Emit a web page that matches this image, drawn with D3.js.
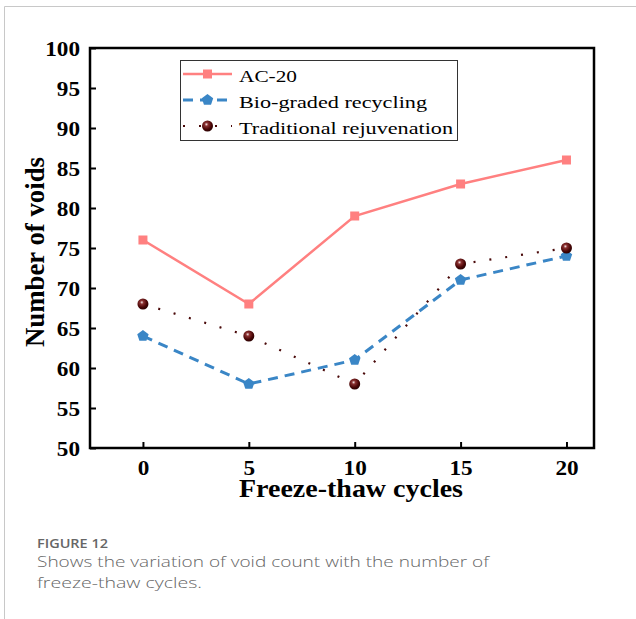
<!DOCTYPE html>
<html>
<head>
<meta charset="utf-8">
<script src="https://cdn.jsdelivr.net/npm/d3@7"></script>
<style>
  body { margin: 0; background: #fff; }
  svg { display: block; }
</style>
</head>
<body>
<div id="chart"></div>
<script>
// data
var cycles = [0, 5, 10, 15, 20];
var ac20 = [76, 68, 79, 83, 86];
var bioGraded = [64, 58, 61, 71, 74];
var traditional = [68, 64, 58, 73, 75];
var yTicks = [50, 55, 60, 65, 70, 75, 80, 85, 90, 95, 100];
var seriesNames = ["AC-20", "Bio-graded recycling", "Traditional rejuvenation"];

var W = 636, H = 619;
var margin = { left: 90, top: 48, right: 594, bottom: 448 };

var svg = d3.select("#chart").append("svg")
    .attr("width", W)
    .attr("height", H);

// page frame lines (top and left)
svg.append("line").attr("x1", 4.5).attr("x2", W).attr("y1", 6.5).attr("y2", 6.5)
    .attr("stroke", "#c8c8c8").attr("stroke-width", 1);
svg.append("line").attr("x1", 4.5).attr("x2", 4.5).attr("y1", 6.5).attr("y2", H)
    .attr("stroke", "#c8c8c8").attr("stroke-width", 1);

var defs = svg.append("defs");
var grad = defs.append("radialGradient").attr("id", "ball")
    .attr("cx", "40%").attr("cy", "35%").attr("r", "65%");
grad.append("stop").attr("offset", "0%").attr("stop-color", "#f4e6e6");
grad.append("stop").attr("offset", "25%").attr("stop-color", "#8a3030");
grad.append("stop").attr("offset", "70%").attr("stop-color", "#4a0606");
grad.append("stop").attr("offset", "100%").attr("stop-color", "#2a0000");

var x = d3.scaleLinear().domain([-2.5, 21.3]).range([margin.left, margin.right]);
var y = d3.scaleLinear().domain([50, 100]).range([margin.bottom, margin.top]);

var serif = "'Liberation Serif', 'Times New Roman', serif";

// axes
var xAxis = d3.axisBottom(x).tickValues(cycles).tickSizeInner(-6).tickSizeOuter(0);
var yAxis = d3.axisLeft(y).tickValues(yTicks).tickSizeInner(-6).tickSizeOuter(0).tickPadding(10);

var gx = svg.append("g").attr("transform", "translate(0," + margin.bottom + ")").call(xAxis);
var gy = svg.append("g").attr("transform", "translate(" + margin.left + ",0)").call(yAxis);

[gx, gy].forEach(function (g) {
    g.select(".domain").remove();
    g.selectAll(".tick line").attr("stroke", "#000").attr("stroke-width", 2);
    g.selectAll(".tick text")
        .attr("fill", "#000")
        .style("font-family", serif)
        .style("font-weight", "bold")
        .style("font-size", "20px")
        .attr("lengthAdjust", "spacingAndGlyphs")
        .attr("textLength", function () { return this.textContent.length * 11.6; });
});
gx.selectAll(".tick text").attr("y", 27).attr("dy", 0);
gy.selectAll(".tick text").attr("dy", "0.35em");

// plot frame
svg.append("rect")
    .attr("x", margin.left).attr("y", margin.top)
    .attr("width", margin.right - margin.left)
    .attr("height", margin.bottom - margin.top)
    .attr("fill", "none").attr("stroke", "#000").attr("stroke-width", 2.5);

// axis titles
svg.append("text")
    .attr("x", 351).attr("y", 497)
    .attr("text-anchor", "middle")
    .attr("textLength", 224).attr("lengthAdjust", "spacingAndGlyphs")
    .style("font-family", serif).style("font-weight", "bold").style("font-size", "26px")
    .text("Freeze-thaw cycles");

svg.append("text")
    .attr("transform", "translate(44,252) rotate(-90)")
    .attr("text-anchor", "middle")
    .attr("textLength", 190).attr("lengthAdjust", "spacingAndGlyphs")
    .style("font-family", serif).style("font-weight", "bold").style("font-size", "26.5px")
    .text("Number of voids");

var line = d3.line()
    .x(function (d, i) { return x(cycles[i]); })
    .y(function (d) { return y(d); });

var colAC = "#ff8080", colBio = "#3a86c6", colTr = "#4a0a0a";

function pentagon(cx, cy, r) {
    var pts = [];
    for (var k = 0; k < 5; k++) {
        var a = -Math.PI / 2 + k * 2 * Math.PI / 5;
        pts.push([cx + r * Math.cos(a), cy + r * Math.sin(a)]);
    }
    return "M" + pts.join("L") + "Z";
}

// AC-20
svg.append("path").datum(ac20).attr("d", line)
    .attr("fill", "none").attr("stroke", colAC).attr("stroke-width", 2.5);
svg.selectAll(".sq").data(ac20).enter().append("rect")
    .attr("x", function (d, i) { return x(cycles[i]) - 4.5; })
    .attr("y", function (d) { return y(d) - 4.5; })
    .attr("width", 9).attr("height", 9)
    .attr("fill", colAC);

// Bio-graded recycling
svg.append("path").datum(bioGraded).attr("d", line)
    .attr("fill", "none").attr("stroke", colBio).attr("stroke-width", 3)
    .attr("stroke-dasharray", "10,7");
svg.selectAll(".pent").data(bioGraded).enter().append("path")
    .attr("d", function (d, i) { return pentagon(x(cycles[i]), y(d), 6); })
    .attr("fill", colBio);

// Traditional rejuvenation
svg.append("path").datum(traditional).attr("d", line)
    .attr("fill", "none").attr("stroke", colTr).attr("stroke-width", 2.2)
    .attr("stroke-dasharray", "2,14");
svg.selectAll(".ball").data(traditional).enter().append("circle")
    .attr("cx", function (d, i) { return x(cycles[i]); })
    .attr("cy", function (d) { return y(d); })
    .attr("r", 5.5)
    .attr("fill", "url(#ball)");

// legend
var leg = svg.append("g");
leg.append("rect")
    .attr("x", 180.5).attr("y", 60.5).attr("width", 277).attr("height", 80)
    .attr("fill", "#fff").attr("stroke", "#333").attr("stroke-width", 1);

var legY = [74, 100, 126];
var legW = [58, 188, 214];
leg.append("line").attr("x1", 183).attr("x2", 232).attr("y1", legY[0]).attr("y2", legY[0])
    .attr("stroke", colAC).attr("stroke-width", 2.5);
leg.append("rect").attr("x", 203).attr("y", legY[0] - 4.5).attr("width", 9).attr("height", 9).attr("fill", colAC);

leg.append("line").attr("x1", 183).attr("x2", 232).attr("y1", legY[1]).attr("y2", legY[1])
    .attr("stroke", colBio).attr("stroke-width", 3).attr("stroke-dasharray", "10,7");
leg.append("path").attr("d", pentagon(207.5, legY[1], 6)).attr("fill", colBio);

leg.append("line").attr("x1", 183).attr("x2", 232).attr("y1", legY[2]).attr("y2", legY[2])
    .attr("stroke", colTr).attr("stroke-width", 2.2).attr("stroke-dasharray", "2,14");
leg.append("circle").attr("cx", 207.5).attr("cy", legY[2]).attr("r", 5.5).attr("fill", "url(#ball)");

leg.selectAll(".lt").data(seriesNames).enter().append("text")
    .attr("x", 239)
    .attr("y", function (d, i) { return legY[i] + 7.5; })
    .attr("textLength", function (d, i) { return legW[i]; })
    .attr("lengthAdjust", "spacingAndGlyphs")
    .style("font-family", serif).style("font-size", "17.5px")
    .attr("fill", "#000")
    .text(function (d) { return d; });

// caption
var sans = "'Open Sans', 'Noto Sans', sans-serif";
svg.append("text").attr("x", 37).attr("y", 548)
    .attr("textLength", 71).attr("lengthAdjust", "spacingAndGlyphs")
    .style("font-family", sans).style("font-size", "13px").style("font-weight", "600")
    .attr("fill", "#666").text("FIGURE 12");
svg.append("text").attr("x", 37).attr("y", 567)
    .attr("textLength", 452).attr("lengthAdjust", "spacingAndGlyphs")
    .style("font-family", sans).style("font-size", "15px").style("font-weight", "300")
    .attr("fill", "#666").text("Shows the variation of void count with the number of");
svg.append("text").attr("x", 37).attr("y", 588)
    .attr("textLength", 165).attr("lengthAdjust", "spacingAndGlyphs")
    .style("font-family", sans).style("font-size", "15px").style("font-weight", "300")
    .attr("fill", "#666").text("freeze-thaw cycles.");
</script>
</body>
</html>
